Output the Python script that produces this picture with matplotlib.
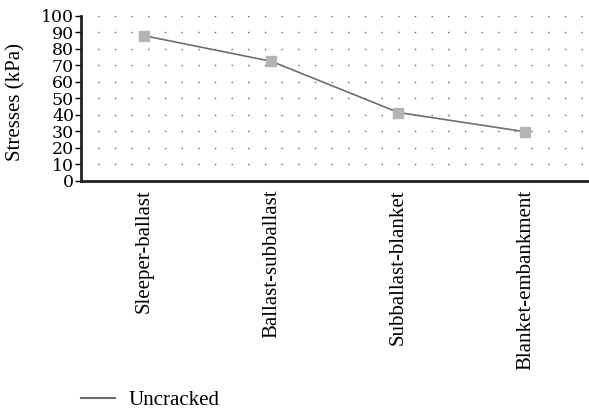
import matplotlib
matplotlib.use("Agg")
import matplotlib.pyplot as plt
from matplotlib.lines import Line2D

# data
categories = ["Sleeper-ballast", "Ballast-subballast", "Subballast-blanket", "Blanket-embankment"]
uncracked = [88, 72.5, 41.5, 29.8]
y_ticks = list(range(0, 101, 10))

plt.rcParams["font.family"] = ["Liberation Serif", "DejaVu Serif"]

fig = plt.figure(figsize=(5.89, 4.12), dpi=100)
ax = fig.add_axes([0.1375, 0.5607, 0.8625, 0.4005])

x = list(range(len(categories)))
ax.plot(x, uncracked, color="#6e6e6e", linewidth=1.2, zorder=3)
ax.plot(x, uncracked, linestyle="none", marker="s", markersize=7.5,
        markerfacecolor="#b4b4b4", markeredgecolor="#b4b4b4", zorder=4)

ax.set_xlim(-0.5, 3.5)
ax.set_ylim(0, 100)
ax.set_yticks(y_ticks)
ax.set_yticklabels([str(v) for v in y_ticks], family="DejaVu Serif", fontsize=12.5)
ax.tick_params(axis="y", length=4, width=1, pad=1)
ax.set_xticks(x)
ax.set_xticklabels(categories, rotation=90, fontsize=15, va="top")
ax.tick_params(axis="x", length=0, pad=6)

# dotted grid
for yv in y_ticks[1:]:
    ax.axhline(yv, color="#666666", linewidth=1.0, linestyle=(0, (1, 11)), zorder=1)

for s in ["top", "right"]:
    ax.spines[s].set_visible(False)
for s in ["left", "bottom"]:
    ax.spines[s].set_linewidth(2)
    ax.spines[s].set_color("#222222")

ax.set_ylabel("Stresses (kPa)", fontsize=15)
ax.yaxis.set_label_coords(-0.11, 0.48)

handle = Line2D([0], [0], color="#6e6e6e", linewidth=1.5)
fig.legend([handle], ["Uncracked"], loc="center left",
           bbox_to_anchor=(81 / 589, 1 - 400 / 412), borderaxespad=0, borderpad=0,
           frameon=False, fontsize=15, handlelength=1.63, handletextpad=0.63)

fig.savefig("out.png", dpi=100)
